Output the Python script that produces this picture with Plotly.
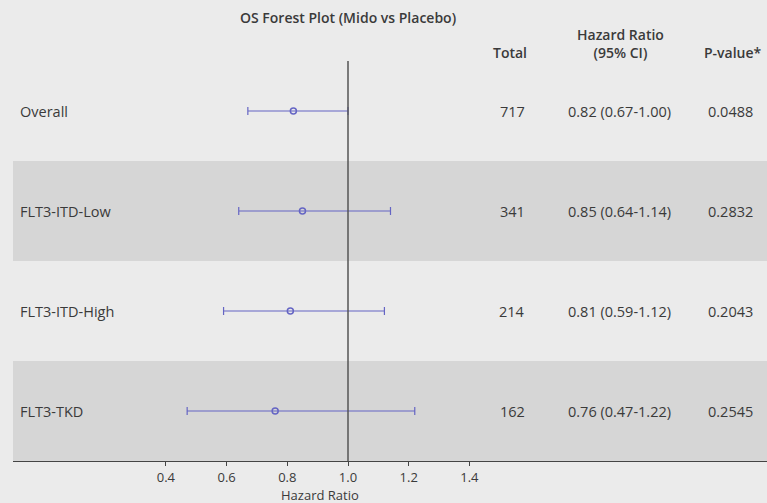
import plotly.graph_objects as go

subgroups = ["Overall", "FLT3-ITD-Low", "FLT3-ITD-High", "FLT3-TKD"]
totals = [717, 341, 214, 162]
hr = [0.82, 0.85, 0.81, 0.76]
ci_low = [0.67, 0.64, 0.59, 0.47]
ci_high = [1.00, 1.14, 1.12, 1.22]
pvalues = ["0.0488", "0.2832", "0.2043", "0.2545"]
tick_vals = [0.4, 0.6, 0.8, 1.0, 1.2, 1.4]
tick_text = ["0.4", "0.6", "0.8", "1.0", "1.2", "1.4"]

W, H = 767, 503
ML, MB = 13, 42
px_per_unit = 303.5
x_ref_px = 348
x_left = 1 - (x_ref_px - ML) / px_per_unit
x_right = 1 + (W - x_ref_px) / px_per_unit
rows = list(range(len(subgroups)))

BG = "#ebebeb"
BAND = "#d6d6d6"
TXT = "#3a3a3a"
MARK = "#6565c4"
FONT = "Open Sans"
FS = 14.5

fig = go.Figure()
fig.add_trace(go.Scatter(
    x=hr, y=rows, mode="markers",
    marker=dict(symbol="circle-open", size=6, color=MARK, line=dict(width=1.5, color=MARK)),
    error_x=dict(type="data", symmetric=False,
                 array=[u - h for u, h in zip(ci_high, hr)],
                 arrayminus=[h - l for h, l in zip(hr, ci_low)],
                 color=MARK, thickness=1.2, width=4),
    showlegend=False, hoverinfo="skip",
))

shapes = []
for i in rows:
    if i % 2 == 1:
        shapes.append(dict(type="rect", xref="paper", yref="y", x0=0, x1=1, y0=i - 0.5, y1=i + 0.5,
                           fillcolor=BAND, line=dict(width=0), layer="below"))
shapes.append(dict(type="line", xref="x", yref="y", x0=1, x1=1, y0=-0.5, y1=len(rows) - 0.5,
                   line=dict(color="#555555", width=1.5), layer="above"))

ann = []
def add(text, x, y, xanchor="center", weight="normal", size=FS, xref="paper", yref="y"):
    ann.append(dict(text=text, x=x, y=y, xref=xref, yref=yref,
                    xanchor=xanchor, yanchor="middle", showarrow=False,
                    font=dict(family=FONT, size=size, color=TXT, weight=weight)))

def px2paper(px):
    return (px - ML) / (W - ML)

def py2paper(py):
    return 1 - py / (H - MB)

for i, (g, t, h, l, u, p) in enumerate(zip(subgroups, totals, hr, ci_low, ci_high, pvalues)):
    add(g, px2paper(18), i, xanchor="left")
    add(str(t), px2paper(512), i)
    add("%.2f (%.2f-%.2f)" % (h, l, u), px2paper(619), i)
    add(p, px2paper(730), i)

add("OS Forest Plot (Mido vs Placebo)", px2paper(348), py2paper(17), weight=600, size=14, yref="paper")
add("Total", px2paper(510), py2paper(53), weight=600, size=14, yref="paper")
add("Hazard Ratio<br>(95% CI)", px2paper(620), py2paper(44), weight=600, size=14, yref="paper")
add("P-value*", px2paper(733), py2paper(53), weight=600, size=14, yref="paper")
add("Hazard Ratio", px2paper(320), py2paper(495), size=13, yref="paper")

fig.update_layout(
    width=W, height=H,
    margin=dict(l=ML, r=0, t=0, b=MB),
    paper_bgcolor=BG, plot_bgcolor=BG,
    shapes=shapes, annotations=ann,
    font=dict(family=FONT, size=FS, color=TXT),
    xaxis=dict(range=[x_left, x_right], tickvals=tick_vals, ticktext=tick_text,
               showgrid=False, zeroline=False, showline=True, linecolor="#444444", linewidth=1.2,
               ticks="outside", ticklen=4, tickcolor="#444444", tickwidth=1.2,
               tickfont=dict(family=FONT, size=13, color=TXT),
               fixedrange=True),
    yaxis=dict(range=[len(rows) - 0.5, -1.11], showgrid=False, zeroline=False, showticklabels=False,
               showline=False, fixedrange=True),
)

fig.write_html("out.html")
